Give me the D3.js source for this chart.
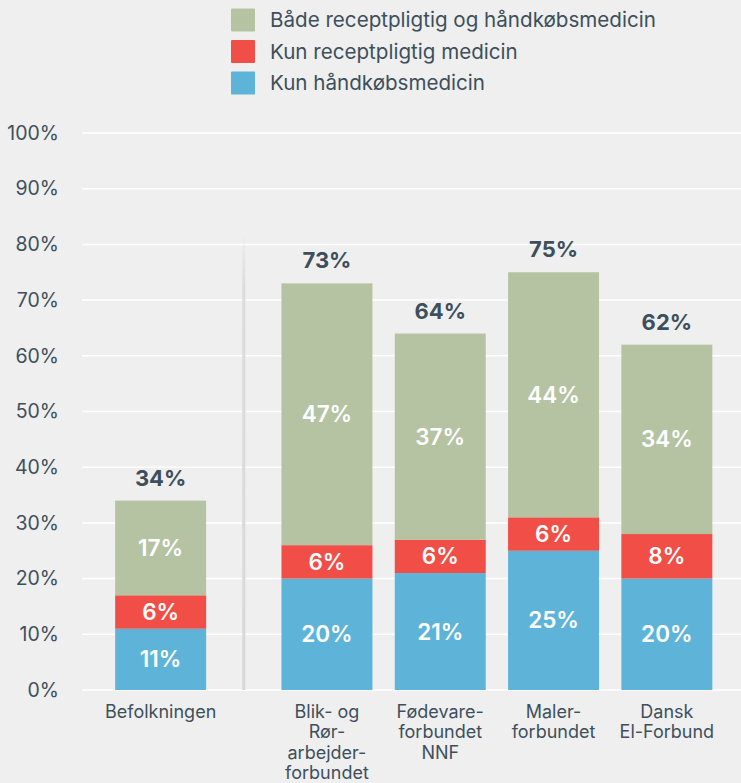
<!DOCTYPE html>
<html>
<head>
<meta charset="utf-8">
<script src="https://cdn.jsdelivr.net/npm/d3@7"></script>
<style>
  html, body { margin: 0; padding: 0; background: #efefef; }
  svg text { font-family: Inter, "Noto Sans", sans-serif; }
</style>
</head>
<body>
<div id="chart"></div>
<script>
const categories = ["Befolkningen", "Blik- og Rør-arbejder-forbundet", "Fødevare-forbundet NNF", "Maler-forbundet", "Dansk El-Forbund"];
const categoryLines = [
  ["Befolkningen"],
  ["Blik- og", "Rør-", "arbejder-", "forbundet"],
  ["Fødevare-", "forbundet", "NNF"],
  ["Maler-", "forbundet"],
  ["Dansk", "El-Forbund"]
];
const kunHaandkoeb = [11, 20, 21, 25, 20];
const kunRecept = [6, 6, 6, 6, 8];
const begge = [17, 47, 37, 44, 34];
const totals = [34, 73, 64, 75, 62];
const seriesNames = ["Både receptpligtig og håndkøbsmedicin", "Kun receptpligtig medicin", "Kun håndkøbsmedicin"];
const yTicks = [0, 10, 20, 30, 40, 50, 60, 70, 80, 90, 100];

const colors = {
  "Kun håndkøbsmedicin": "#5eb4d8",
  "Kun receptpligtig medicin": "#f04e46",
  "Både receptpligtig og håndkøbsmedicin": "#b5c3a3"
};
const textColor = "#3e4f5b";

const width = 741, height = 783;
const margin = { top: 133, right: 0, bottom: 93, left: 82 };
const gap = 53; // extra space after the first bar

const svg = d3.select("#chart").append("svg")
  .attr("width", width)
  .attr("height", height);

svg.append("rect").attr("width", width).attr("height", height).attr("fill", "#efefef");

const y = d3.scaleLinear()
  .domain([0, 100])
  .range([height - margin.bottom, margin.top]);

const x = d3.scaleBand()
  .domain(categories)
  .range([104, 104 + 5 * 113.3])
  .paddingInner(0.197)
  .paddingOuter(0.0985);

const xPos = d => x(d) + (d === categories[0] ? 0 : gap);

// grid
svg.append("g")
  .selectAll("line")
  .data(yTicks)
  .join("line")
  .attr("x1", margin.left)
  .attr("x2", width)
  .attr("y1", d => y(d))
  .attr("y2", d => y(d))
  .attr("stroke", "#ffffff")
  .attr("stroke-width", 1.5);

// y axis labels
const yAxis = d3.axisLeft(y).tickValues(yTicks).tickFormat(d => d + "%").tickSize(0).tickPadding(0);
svg.append("g")
  .attr("transform", "translate(59,0)")
  .call(yAxis)
  .call(g => g.select(".domain").remove())
  .call(g => g.selectAll("text")
    .attr("fill", textColor)
    .style("font-size", "19.5px")
    .style("font-family", "Inter, sans-serif"));

// separator
const defs = svg.append("defs");
const grad = defs.append("linearGradient")
  .attr("id", "sepGrad").attr("x1", 0).attr("x2", 0).attr("y1", 0).attr("y2", 1);
grad.append("stop").attr("offset", "0%").attr("stop-color", "#dcdcdc").attr("stop-opacity", 0);
grad.append("stop").attr("offset", "12%").attr("stop-color", "#dcdcdc").attr("stop-opacity", 1);
grad.append("stop").attr("offset", "100%").attr("stop-color", "#d8d8d8").attr("stop-opacity", 1);

const sepX = (xPos(categories[0]) + x.bandwidth() + xPos(categories[1])) / 2;
svg.append("rect")
  .attr("x", sepX - 1.5)
  .attr("y", y(82))
  .attr("width", 3)
  .attr("height", y(0) - y(82))
  .attr("fill", "url(#sepGrad)");

// stacked data
const stackKeys = ["Kun håndkøbsmedicin", "Kun receptpligtig medicin", "Både receptpligtig og håndkøbsmedicin"];
const rows = categories.map((c, i) => ({
  category: c,
  "Kun håndkøbsmedicin": kunHaandkoeb[i],
  "Kun receptpligtig medicin": kunRecept[i],
  "Både receptpligtig og håndkøbsmedicin": begge[i]
}));
const stacked = d3.stack().keys(stackKeys)(rows);

const layers = svg.append("g")
  .selectAll("g")
  .data(stacked)
  .join("g")
  .attr("fill", d => colors[d.key]);

layers.selectAll("rect")
  .data(d => d)
  .join("rect")
  .attr("x", d => xPos(d.data.category))
  .attr("width", x.bandwidth())
  .attr("y", d => y(d[1]))
  .attr("height", d => y(d[0]) - y(d[1]));

layers.selectAll("text")
  .data(d => d)
  .join("text")
  .attr("x", d => xPos(d.data.category) + x.bandwidth() / 2)
  .attr("y", d => (y(d[0]) + y(d[1])) / 2)
  .attr("dy", "0.36em")
  .attr("text-anchor", "middle")
  .attr("fill", "#ffffff")
  .style("font-size", "22.5px")
  .style("font-weight", 600)
  .text(d => (d[1] - d[0]) + "%");

// totals
svg.append("g")
  .selectAll("text")
  .data(categories)
  .join("text")
  .attr("x", d => xPos(d) + x.bandwidth() / 2)
  .attr("y", (d, i) => y(totals[i]) - 15)
  .attr("text-anchor", "middle")
  .attr("fill", textColor)
  .style("font-size", "22px")
  .style("font-weight", 700)
  .text((d, i) => totals[i] + "%");

// category labels
const catLabels = svg.append("g")
  .selectAll("text")
  .data(categories)
  .join("text")
  .attr("x", d => xPos(d) + x.bandwidth() / 2)
  .attr("y", 718)
  .attr("text-anchor", "middle")
  .attr("fill", textColor)
  .style("font-size", "18px");

catLabels.selectAll("tspan")
  .data((d, i) => categoryLines[i].map(l => ({ line: l, cx: xPos(d) + x.bandwidth() / 2 })))
  .join("tspan")
  .attr("x", d => d.cx)
  .attr("dy", (d, i) => i === 0 ? 0 : 20.3)
  .text(d => d.line);

// legend
const legend = svg.append("g")
  .selectAll("g")
  .data(seriesNames)
  .join("g")
  .attr("transform", (d, i) => `translate(231, ${20 + i * 31.5})`);

legend.append("rect")
  .attr("x", 0)
  .attr("y", -11.5)
  .attr("width", 24)
  .attr("height", 23)
  .attr("rx", 1)
  .attr("fill", d => colors[d]);

legend.append("text")
  .attr("x", 39)
  .attr("dy", "0.36em")
  .attr("fill", textColor)
  .style("font-size", "20.6px")
  .text(d => d);
</script>
</body>
</html>
